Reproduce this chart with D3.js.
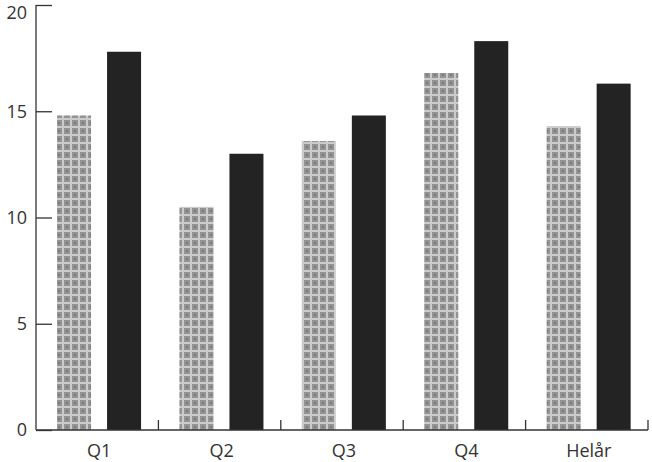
<!DOCTYPE html>
<html><head><meta charset="utf-8">
<script src="https://cdn.jsdelivr.net/npm/d3@7/dist/d3.min.js"></script>
<style>body{margin:0;background:#fff}</style>
</head><body>
<svg id="c" width="652" height="462"></svg>
<script>
const categories = ["Q1","Q2","Q3","Q4","Helår"];
const seriesA = [14.8, 10.5, 13.6, 16.8, 14.3];
const seriesB = [17.8, 13.0, 14.8, 18.3, 16.3];
const yTicks = [0,5,10,15,20];

const svg = d3.select("#c");
const defs = svg.append("defs");
const pat = defs.append("pattern").attr("id","chk").attr("patternUnits","userSpaceOnUse")
  .attr("width",8).attr("height",8);
pat.append("rect").attr("width",8).attr("height",8).attr("fill","#939393");
pat.append("rect").attr("x",0).attr("y",6).attr("width",8).attr("height",2).attr("fill","#cbcbcb");
pat.append("rect").attr("x",6).attr("y",0).attr("width",2).attr("height",8).attr("fill","#cbcbcb");
pat.append("rect").attr("x",2).attr("y",2).attr("width",2).attr("height",2).attr("fill","#7a7a7a");

const x0 = 36, x1 = 648, yTop = 5, yBot = 430;
const x = d3.scaleBand().domain(categories).range([x0,x1]);
const y = d3.scaleLinear().domain([0,20]).range([yBot,yTop]);
const bw = x.bandwidth();
const barW = 34;

const g = svg.append("g");
categories.forEach((c,i)=>{
  const bx = x(c);
  g.append("rect").attr("x",bx+bw*0.172).attr("width",barW)
    .attr("y",y(seriesA[i])).attr("height",y(0)-y(seriesA[i])).attr("fill","url(#chk)");
  g.append("rect").attr("x",bx+bw*0.172+50).attr("width",barW)
    .attr("y",y(seriesB[i])).attr("height",y(0)-y(seriesB[i])).attr("fill","#232323");
});

// y axis
const yAxis = d3.axisLeft(y).tickValues(yTicks).tickSize(-16).tickPadding(26).tickFormat(d3.format("d"));
const ya = svg.append("g").attr("transform",`translate(${x0},0)`).call(yAxis);
ya.select(".domain").attr("d",`M0,${yTop}V${yBot}`).attr("stroke","#333").attr("stroke-width",1.3);
ya.selectAll(".tick line").attr("stroke","#333").attr("stroke-width",1.3);
ya.selectAll(".tick text").attr("font-family","'Open Sans', sans-serif").attr("font-size",18).attr("fill","#333").attr("x",-9)
  .attr("dy", d => d === 20 ? "0.75em" : "0.32em");

// x axis
const xa = svg.append("g").attr("transform",`translate(0,${yBot})`);
xa.append("line").attr("x1",x0).attr("x2",x1).attr("stroke","#333").attr("stroke-width",1.3);
categories.forEach(c=>{
  const bx = x(c)+bw;
  xa.append("line").attr("x1",bx).attr("x2",bx).attr("y1",0).attr("y2",-10).attr("stroke","#333").attr("stroke-width",1.3);
  xa.append("text").attr("x",x(c)+bw/2+2).attr("y",27).attr("text-anchor","middle")
    .attr("font-family","'Open Sans', sans-serif").attr("font-size",18).attr("fill","#333").text(c);
});
</script>
</body></html>
